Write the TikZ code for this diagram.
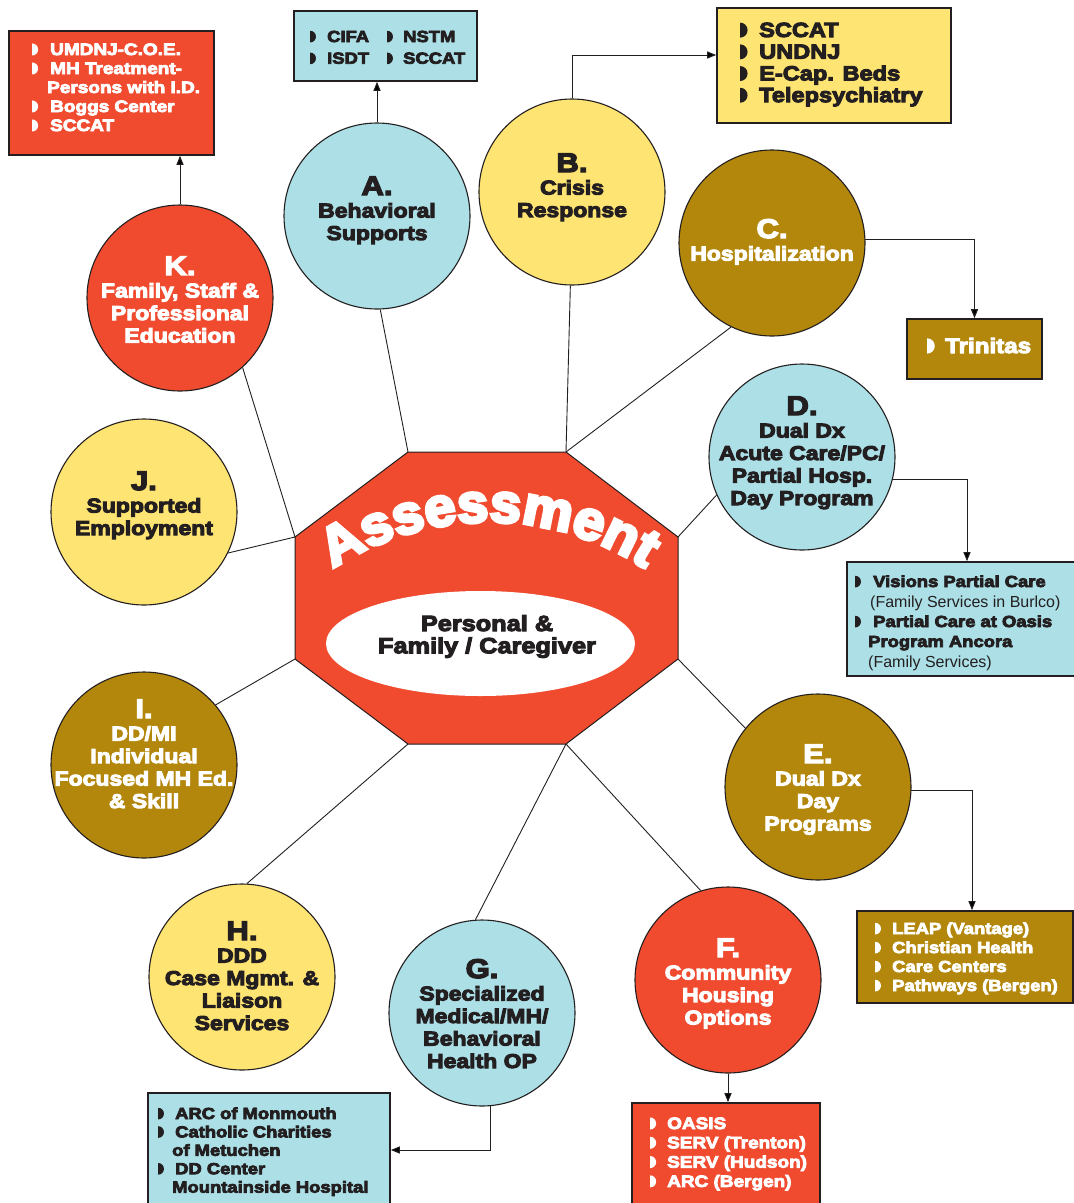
\documentclass[tikz,border=0pt]{standalone}
\usepackage{fontspec}
\usepackage{graphicx}
\usetikzlibrary{shapes.geometric,arrows.meta,decorations.text}
\setmainfont{Liberation Sans}
\newfontfamily\hv{Liberation Sans}[FakeStretch=1.15,FakeBold=5]
\newfontfamily\hvA{Liberation Sans}[FakeStretch=1.02,FakeBold=6]
\newfontfamily\rg{Liberation Sans}
\definecolor{cred}{HTML}{F04B2F}
\definecolor{cblue}{HTML}{ACDFE6}
\definecolor{cyel}{HTML}{FEE472}
\definecolor{cgold}{HTML}{B3870B}
\definecolor{dk}{HTML}{231F20}
\newcommand\bul{\tikz[x=1em,y=1em,baseline=0pt]\fill (0.02,-0.03) -- (0.02,0.70) arc[start angle=90,end angle=-90,x radius=0.36,y radius=0.365] -- cycle;}
\newcommand\bx[1]{\makebox[#1][l]{\bul}}
\newcommand\hdr{\fontsize{27}{22.5}\selectfont}
\newcommand\asf{\hvA\bfseries\fontsize{55}{55}\selectfont\color{white}}
\tikzset{
  circ/.style={circle, draw=dk, line width=1.1pt, minimum size=186pt, inner sep=0pt},
  bxs/.style={draw=dk, line width=1.6pt, inner sep=0pt},
  ln/.style={draw=dk, line width=0.9pt},
  arr/.style={draw=dk, line width=1pt, -{Triangle[length=9pt,width=7pt]}},
  ctext/.style={anchor=base, inner sep=0pt, font=\hv\bfseries\fontsize{20}{22.5}\selectfont},
  ttext/.style={anchor=base west, inner sep=0pt}
}
\begin{document}
\begin{tikzpicture}[x=1pt,y=-1pt]
\useasboundingbox (0,0) rectangle (1074,1203);
% octagon vertices
\coordinate (o1) at (408,452);
\coordinate (o2) at (566,452);
\coordinate (o3) at (678,537);
\coordinate (o4) at (678,659);
\coordinate (o5) at (566,744);
\coordinate (o6) at (408,744);
\coordinate (o7) at (295,659);
\coordinate (o8) at (295,537);
\draw[fill=cred, draw=dk, line width=1pt] (o1) -- (o2) -- (o3) -- (o4) -- (o5) -- (o6) -- (o7) -- (o8) -- cycle;
\node[ellipse, fill=white, minimum width=309pt, minimum height=105pt, inner sep=0pt] (ell) at (480.5,643.5) {};
\node[anchor=base, inner sep=0pt, text=dk, font=\hv\bfseries\fontsize{22}{21}\selectfont] (ellt) at (487,631)
  {\begin{tabular}[t]{@{}c@{}}Personal \&\\Family / Caregiver\end{tabular}};
\path[decorate, decoration={text along path, text align=center, text={|\asf|Assessment}}]
  (322.1,576.2) arc[start angle=234, end angle=306, radius=284];
% circles
\node[circ, fill=cblue] (A) at (377,216) {};
\node[circ, fill=cyel] (B) at (572,192) {};
\node[circ, fill=cgold] (C) at (772,243) {};
\node[circ, fill=cblue] (D) at (802,457) {};
\node[circ, fill=cgold] (E) at (818,787) {};
\node[circ, fill=cred] (F) at (728,980) {};
\node[circ, fill=cblue] (G) at (482,1013) {};
\node[circ, fill=cyel] (H) at (242,977) {};
\node[circ, fill=cgold] (I) at (144,765) {};
\node[circ, fill=cyel] (J) at (144,512) {};
\node[circ, fill=cred] (K) at (180,298) {};
% spokes
\draw[ln] (A.272) -- (o1);
\draw[ln] (B.269) -- (o2);
\draw[ln] (C.244) -- (o2);
\draw[ln] (D.204) -- (o3);
\draw[ln] (E.141) -- (o4);
\draw[ln] (F.107) -- (o5);
\draw[ln] (G.94) -- (o5);
\draw[ln] (H.87) -- (o6);
\draw[ln] (I.40) -- (o7);
\draw[ln] (J.334) -- (o8);
\draw[ln] (K.312) -- (o8);
% circle texts
\node[ctext, text=dk] (At) at (377,195) {\begin{tabular}[t]{@{}c@{}}{\hdr A.}\\Behavioral\\Supports\end{tabular}};
\node[ctext, text=dk] (Bt) at (572,172) {\begin{tabular}[t]{@{}c@{}}{\hdr B.}\\Crisis\\Response\end{tabular}};
\node[ctext, text=white] (Ct) at (772,238) {\begin{tabular}[t]{@{}c@{}}{\hdr C.}\\Hospitalization\end{tabular}};
\node[ctext, text=dk] (Dt) at (802,415) {\begin{tabular}[t]{@{}c@{}}{\hdr D.}\\Dual Dx\\Acute Care/PC/\\Partial Hosp.\\Day Program\end{tabular}};
\node[ctext, text=white] (Et) at (818,763) {\begin{tabular}[t]{@{}c@{}}{\hdr E.}\\Dual Dx\\Day\\Programs\end{tabular}};
\node[ctext, text=white] (Ft) at (728,957) {\begin{tabular}[t]{@{}c@{}}{\hdr F.}\\Community\\Housing\\Options\end{tabular}};
\node[ctext, text=dk] (Gt) at (482,978) {\begin{tabular}[t]{@{}c@{}}{\hdr G.}\\Specialized\\Medical/MH/\\Behavioral\\Health OP\end{tabular}};
\node[ctext, text=dk] (Ht) at (242,940) {\begin{tabular}[t]{@{}c@{}}{\hdr H.}\\DDD\\Case Mgmt. \&\\Liaison\\Services\end{tabular}};
\node[ctext, text=white] (It) at (144,718) {\begin{tabular}[t]{@{}c@{}}{\hdr I.}\\DD/MI\\Individual\\Focused MH Ed.\\\& Skill\end{tabular}};
\node[ctext, text=dk] (Jt) at (144,490) {\begin{tabular}[t]{@{}c@{}}{\hdr J.}\\Supported\\Employment\end{tabular}};
\node[ctext, text=white] (Kt) at (180,275) {\begin{tabular}[t]{@{}c@{}}{\hdr K.}\\Family, Staff \&\\Professional\\Education\end{tabular}};
% boxes
\node[bxs, fill=cred, minimum width=205pt, minimum height=124pt] (kbox) at (111.5,93) {};
\node[bxs, fill=cblue, minimum width=183pt, minimum height=70pt] (abox) at (385.5,46) {};
\node[bxs, fill=cyel, minimum width=234pt, minimum height=115pt] (bbox) at (834,65.5) {};
\node[bxs, fill=cgold, minimum width=135pt, minimum height=60pt] (cbox) at (974.5,349) {};
\node[bxs, fill=cblue, minimum width=240pt, minimum height=114pt] (dbox) at (967,619) {};
\node[bxs, fill=cgold, minimum width=216pt, minimum height=92pt] (ebox) at (965,957) {};
\node[bxs, fill=cred, minimum width=188pt, minimum height=104pt] (fbox) at (726,1155) {};
\node[bxs, fill=cblue, minimum width=242pt, minimum height=114pt] (gbox) at (269,1150) {};
% box texts
\node[ttext, text=white, font=\hv\bfseries\fontsize{16.5}{19}\selectfont] (kt) at (32,55)
  {\begin{tabular}[t]{@{}l@{}}\bx{18pt}UMDNJ-C.O.E.\\\bx{18pt}MH Treatment-\\\hspace{15pt}Persons with I.D.\\\bx{18pt}Boggs Center\\\bx{18pt}SCCAT\end{tabular}};
\node[ttext, text=dk, font=\hv\bfseries\fontsize{16}{21.7}\selectfont] (at) at (310,42)
  {\begin{tabular}[t]{@{}l@{}}\makebox[77pt][l]{\bx{17pt}CIFA}\bx{16pt}NSTM\\\makebox[77pt][l]{\bx{17pt}ISDT}\bx{16pt}SCCAT\end{tabular}};
\node[ttext, text=dk, font=\hv\bfseries\fontsize{20.5}{21.7}\selectfont] (bt) at (740,37)
  {\begin{tabular}[t]{@{}l@{}}\bx{19pt}SCCAT\\\bx{19pt}UNDNJ\\\bx{19pt}E-Cap. Beds\\\bx{19pt}Telepsychiatry\end{tabular}};
\node[ttext, text=white, font=\hv\bfseries\fontsize{21}{22}\selectfont] (ct) at (927,353) {\bx{18pt}Trinitas};
\node[ttext, text=dk, font=\hv\bfseries\fontsize{16}{20}\selectfont] (dt) at (855,587)
  {\begin{tabular}[t]{@{}l@{}}\bx{18pt}Visions Partial Care\\\hspace{15pt}{\rg\mdseries (Family Services in Burlco)}\\\bx{18pt}Partial Care at Oasis\\\hspace{13pt}Program Ancora\\\hspace{13pt}{\rg\mdseries (Family Services)}\end{tabular}};
\node[ttext, text=white, font=\hv\bfseries\fontsize{16}{19}\selectfont] (et) at (875,934)
  {\begin{tabular}[t]{@{}l@{}}\bx{17pt}LEAP (Vantage)\\\bx{17pt}Christian Health\\\bx{17pt}Care Centers\\\bx{17pt}Pathways (Bergen)\end{tabular}};
\node[ttext, text=white, font=\hv\bfseries\fontsize{16.5}{19.3}\selectfont] (ft) at (650,1129)
  {\begin{tabular}[t]{@{}l@{}}\bx{17pt}OASIS\\\bx{17pt}SERV (Trenton)\\\bx{17pt}SERV (Hudson)\\\bx{17pt}ARC (Bergen)\end{tabular}};
\node[ttext, text=dk, font=\hv\bfseries\fontsize{16}{18.4}\selectfont] (gt) at (158,1119)
  {\begin{tabular}[t]{@{}l@{}}\bx{17pt}ARC of Monmouth\\\bx{17pt}Catholic Charities\\\hspace{14pt}of Metuchen\\\bx{17pt}DD Center\\\hspace{14pt}Mountainside Hospital\end{tabular}};
% arrows
\draw[arr] (K.north) -- (K.north |- kbox.south);
\draw[arr] (A.north) -- (A.north |- abox.south);
\draw[arr] (B.north) |- ([yshift=10.5pt]bbox.west);
\draw[arr] (C.2.5) -| (cbox.north);
\draw[arr] (D.-14) -| (dbox.north);
\draw[arr] (E.-2) -| ([xshift=7pt]ebox.north);
\draw[arr] (F.south) -- (F.south |- fbox.north);
\draw[arr] (G.-85) |- (gbox.east);
\end{tikzpicture}
\end{document}
